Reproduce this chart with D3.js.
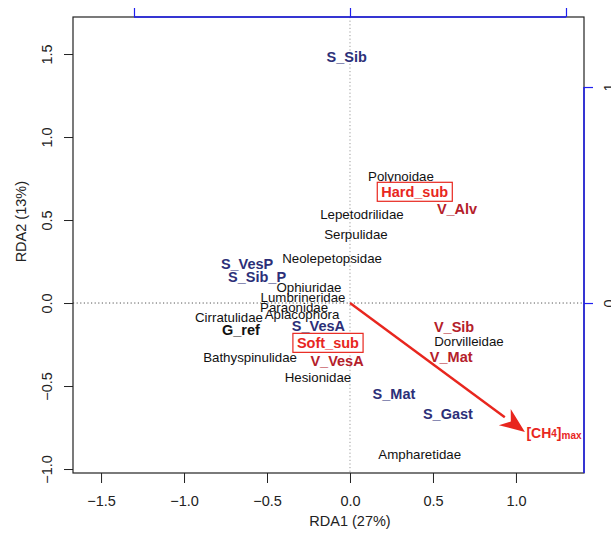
<!DOCTYPE html>
<html>
<head>
<meta charset="utf-8">
<script src="https://cdn.jsdelivr.net/npm/d3@7"></script>
<style>
  html, body { margin: 0; padding: 0; background: #fff; }
  svg text { font-family: "Liberation Sans", Arial, Helvetica, sans-serif; }
</style>
</head>
<body>
<div id="chart"></div>
<script>
// families (species scores)
var familyNames = ['Polynoidae', 'Lepetodrilidae', 'Serpulidae', 'Neolepetopsidae', 'Ophiuridae',
  'Lumbrineridae', 'Paraonidae', 'Aplacophora', 'Cirratulidae', 'Bathyspinulidae', 'Hesionidae',
  'Dorvilleidae', 'Ampharetidae'];
var familyX = [0.307, 0.072, 0.036, -0.108, -0.247, -0.283, -0.337, -0.289, -0.729, -0.602, -0.193, 0.717, 0.42];
var familyY = [0.765, 0.536, 0.41, 0.27, 0.096, 0.036, -0.024, -0.072, -0.09, -0.331, -0.446, -0.229, -0.91];

// S_ centroids
var siteNames = ['S_Sib', 'S_VesP', 'S_Sib_P', 'S_VesA', 'S_Mat', 'S_Gast'];
var siteX = [-0.02, -0.62, -0.56, -0.19, 0.265, 0.59];
var siteY = [1.48, 0.235, 0.157, -0.14, -0.55, -0.67];

// V_ centroids
var ventNames = ['V_Alv', 'V_Sib', 'V_Mat', 'V_VesA'];
var ventX = [0.645, 0.627, 0.61, -0.078];
var ventY = [0.566, -0.145, -0.325, -0.35];

// substrate centroids (boxed)
var subNames = ['Hard_sub', 'Soft_sub'];
var subX = [0.39, -0.133];
var subY = [0.67, -0.24];

// reference
var refNames = ['G_ref'];
var refX = [-0.657];
var refY = [-0.163];

// environmental arrow
var arrowX = [1.054];
var arrowY = [-0.777];
var labelX = [1.229];
var labelY = [-0.783];

// axes
var xTicks = [-1.5, -1.0, -0.5, 0.0, 0.5, 1.0];
var yTicks = [-1.0, -0.5, 0.0, 0.5, 1.0, 1.5];
var topTicks = [-1, 0, 1];
var rightTicks = [0, 1];

var W = 611, H = 536;
var mLeft = 73, mRight = 584, mTop = 17, mBottom = 473;

var svg = d3.select('#chart').append('svg')
  .attr('width', W)
  .attr('height', H);

var x = d3.scaleLinear().domain([-1.669, 1.410]).range([mLeft, mRight]);
var y = d3.scaleLinear().domain([-1.024, 1.723]).range([mBottom, mTop]);
// secondary scale for the blue axes
var x2 = d3.scaleLinear().domain([(mLeft - x(0)) / 216, (mRight - x(0)) / 216]).range([mLeft, mRight]);
var y2 = d3.scaleLinear().domain([(y(0) - mBottom) / 216, (y(0) - mTop) / 216]).range([mBottom, mTop]);

//dotted zero lines
svg.append('line')
  .attr('x1', x(0)).attr('x2', x(0))
  .attr('y1', mTop).attr('y2', mBottom)
  .attr('stroke', '#9a9a9a').attr('stroke-width', 1).attr('stroke-dasharray', '1.2,2.4');
svg.append('line')
  .attr('x1', mLeft).attr('x2', mRight)
  .attr('y1', y(0)).attr('y2', y(0))
  .attr('stroke', '#555').attr('stroke-width', 1).attr('stroke-dasharray', '1.2,2.4');

//bottom axis
var gx = svg.append('g')
  .attr('transform', 'translate(0,' + mBottom + ')')
  .call(d3.axisBottom(x).tickValues(xTicks).tickSize(10).tickPadding(13)
    .tickFormat(function(d) { return d3.format('.1f')(d).replace('-', '\u2212'); }));
gx.select('.domain').remove();
gx.selectAll('line').attr('stroke', '#222');
gx.selectAll('text').attr('font-size', '14.5px').attr('fill', '#222');

//left axis
var gy = svg.append('g')
  .attr('transform', 'translate(' + mLeft + ',0)')
  .call(d3.axisLeft(y).tickValues(yTicks).tickSize(9).tickPadding(0)
    .tickFormat(function(d) { return d3.format('.1f')(d).replace('-', '\u2212'); }));
gy.select('.domain').remove();
gy.selectAll('line').attr('stroke', '#222');
gy.selectAll('text')
  .attr('font-size', '14.5px').attr('fill', '#222')
  .attr('x', 0).attr('dy', 0)
  .attr('text-anchor', 'middle')
  .attr('transform', 'translate(-26,0) rotate(-90)')
  .attr('dominant-baseline', 'central');

//plot box
svg.append('rect')
  .attr('x', mLeft).attr('y', mTop)
  .attr('width', mRight - mLeft).attr('height', mBottom - mTop)
  .attr('fill', 'none').attr('stroke', '#222').attr('stroke-width', 1.2);

//top blue axis (its labels lie above the picture)
var gt = svg.append('g')
  .attr('transform', 'translate(0,' + mTop + ')')
  .call(d3.axisTop(x2).tickValues(topTicks).tickSize(9).tickFormat(''));
gt.select('.domain').remove();
gt.selectAll('line').attr('stroke', '#1f1ff0').attr('stroke-width', 1.2);
svg.append('line')
  .attr('x1', x2(topTicks[0])).attr('x2', x2(topTicks[topTicks.length - 1]))
  .attr('y1', mTop).attr('y2', mTop)
  .attr('stroke', '#1f1ff0').attr('stroke-width', 1.5);

//right blue axis
var gr = svg.append('g')
  .attr('transform', 'translate(' + mRight + ',0)')
  .call(d3.axisRight(y2).tickValues(rightTicks).tickSize(9).tickPadding(0)
    .tickFormat(d3.format('d')));
gr.select('.domain').remove();
gr.selectAll('line').attr('stroke', '#1f1ff0').attr('stroke-width', 1.2);
gr.selectAll('text')
  .attr('font-size', '14.5px').attr('fill', '#222')
  .attr('x', 0).attr('dy', 0)
  .attr('text-anchor', 'middle')
  .attr('transform', 'translate(25,0) rotate(-90)')
  .attr('dominant-baseline', 'central');
svg.append('line')
  .attr('x1', mRight).attr('x2', mRight)
  .attr('y1', y2(rightTicks[rightTicks.length - 1])).attr('y2', mBottom)
  .attr('stroke', '#1f1ff0').attr('stroke-width', 1.5);

//axis titles
svg.append('text')
  .attr('x', x(0)).attr('y', 521)
  .attr('text-anchor', 'middle').attr('dominant-baseline', 'central')
  .attr('font-size', '14.5px').attr('fill', '#222')
  .text('RDA1 (27%)');
svg.append('text')
  .attr('transform', 'translate(21,' + y(0.49) + ') rotate(-90)')
  .attr('text-anchor', 'middle').attr('dominant-baseline', 'central')
  .attr('font-size', '14.5px').attr('fill', '#222')
  .text('RDA2 (13%)');

//arrow
var red = '#e8261e';
var ax = x(arrowX[0]), ay = y(arrowY[0]);
var ang = Math.atan2(ay - y(0), ax - x(0));
var headLen = 25, headW = 10;
var bx = ax - headLen * Math.cos(ang), by = ay - headLen * Math.sin(ang);
svg.append('line')
  .attr('x1', x(0)).attr('y1', y(0))
  .attr('x2', bx).attr('y2', by)
  .attr('stroke', red).attr('stroke-width', 2.4);
svg.append('path')
  .attr('d', 'M' + ax + ',' + ay +
    'L' + (bx + headW * Math.sin(ang)) + ',' + (by - headW * Math.cos(ang)) +
    'L' + (bx + 0.3 * headLen * Math.cos(ang)) + ',' + (by + 0.3 * headLen * Math.sin(ang)) +
    'L' + (bx - headW * Math.sin(ang)) + ',' + (by + headW * Math.cos(ang)) + 'Z')
  .attr('fill', red);

var ch4 = svg.append('text')
  .attr('x', x(labelX[0])).attr('y', y(labelY[0]))
  .attr('text-anchor', 'middle').attr('dominant-baseline', 'central')
  .attr('font-weight', 'bold').attr('font-size', '14px').attr('fill', red);
ch4.append('tspan').text('[CH');
ch4.append('tspan').attr('font-size', '10px').text('4');
ch4.append('tspan').text(']');
ch4.append('tspan').attr('font-size', '10px').attr('dy', '2').text('max');

//label helper
function labels(names, xs, ys, opts) {
  var g = svg.append('g');
  g.selectAll('text')
    .data(names)
    .enter()
    .append('text')
    .attr('x', function(d, i) { return x(xs[i]); })
    .attr('y', function(d, i) { return y(ys[i]); })
    .attr('text-anchor', 'middle')
    .attr('dominant-baseline', 'central')
    .attr('font-size', opts.size)
    .attr('font-weight', opts.weight)
    .attr('fill', opts.color)
    .text(function(d) { return d; });
  return g;
}

labels(familyNames, familyX, familyY, { size: '13.3px', weight: 'normal', color: '#111' });
labels(siteNames, siteX, siteY, { size: '14.5px', weight: 'bold', color: '#2c2f78' });
labels(ventNames, ventX, ventY, { size: '14.5px', weight: 'bold', color: '#b4202a' });
labels(refNames, refX, refY, { size: '14.5px', weight: 'bold', color: '#111' });
var subG = labels(subNames, subX, subY, { size: '14.5px', weight: 'bold', color: red });

//boxes around substrate labels
subG.selectAll('text').each(function() {
  var b = this.getBBox();
  subG.insert('rect', 'text')
    .attr('x', b.x - 4).attr('y', b.y + b.height / 2 - 9.5)
    .attr('width', b.width + 8).attr('height', 19)
    .attr('fill', '#fff').attr('stroke', red).attr('stroke-width', 1.2);
});
</script>
</body>
</html>
